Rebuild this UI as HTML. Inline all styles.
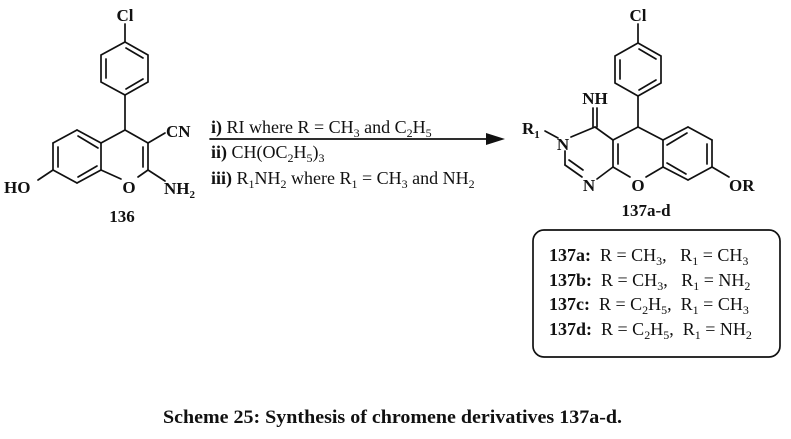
<!DOCTYPE html>
<html><head><meta charset="utf-8"><style>
html,body{margin:0;padding:0;background:#fff}
svg{display:block}
text{font-family:"Liberation Serif",serif;fill:#111;white-space:pre}
.b{font-weight:bold}
</style></head><body>
<svg width="791" height="439" viewBox="0 0 791 439" xmlns="http://www.w3.org/2000/svg">
<g stroke="#111" stroke-width="1.7" fill="none" stroke-linecap="round">
<line x1="125" y1="24" x2="125" y2="42"/>
<polygon points="125,42 148,55 148,82 125,95 101,82 101,55"/>
<line x1="106" y1="59" x2="106" y2="78"/>
<line x1="126" y1="48" x2="143" y2="58"/>
<line x1="143" y1="79" x2="126" y2="89"/>
<line x1="125" y1="95" x2="125" y2="130"/>
<line x1="125" y1="130" x2="148" y2="143"/>
<line x1="148" y1="143" x2="148" y2="170"/>
<line x1="143" y1="147" x2="143" y2="167"/>
<line x1="148" y1="170" x2="138" y2="177"/>
<line x1="121" y1="179" x2="101" y2="170"/>
<line x1="101" y1="170" x2="101" y2="143"/>
<line x1="101" y1="143" x2="125" y2="130"/>
<line x1="101" y1="143" x2="77" y2="130"/>
<line x1="98" y1="148" x2="78" y2="136"/>
<line x1="77" y1="130" x2="53" y2="143"/>
<line x1="53" y1="143" x2="53" y2="170"/>
<line x1="58" y1="147" x2="58" y2="167"/>
<line x1="53" y1="170" x2="77" y2="183"/>
<line x1="77" y1="183" x2="101" y2="170"/>
<line x1="78" y1="177" x2="97" y2="166"/>
<line x1="53" y1="170" x2="38" y2="180"/>
<line x1="148" y1="143" x2="165" y2="133"/>
<line x1="148" y1="170" x2="165" y2="181"/>
<line x1="210" y1="139" x2="490" y2="139"/>
<line x1="638" y1="24" x2="638" y2="43"/>
<polygon points="638,43 661,56 661,83 638,96 615,83 615,56"/>
<line x1="620" y1="60" x2="620" y2="79"/>
<line x1="639" y1="49" x2="656" y2="59"/>
<line x1="656" y1="80" x2="639" y2="90"/>
<line x1="638" y1="96" x2="638" y2="127"/>
<line x1="638" y1="127" x2="613" y2="140"/>
<line x1="638" y1="127" x2="663" y2="140"/>
<line x1="613" y1="140" x2="613" y2="167"/>
<line x1="618" y1="144" x2="618" y2="164"/>
<line x1="613" y1="167" x2="630" y2="177"/>
<line x1="646" y1="177" x2="663" y2="167"/>
<line x1="663" y1="140" x2="688" y2="127"/>
<line x1="667" y1="145" x2="687" y2="133"/>
<line x1="688" y1="127" x2="712" y2="140"/>
<line x1="712" y1="140" x2="712" y2="167"/>
<line x1="707" y1="144" x2="707" y2="164"/>
<line x1="712" y1="167" x2="688" y2="180"/>
<line x1="688" y1="180" x2="663" y2="167"/>
<line x1="686" y1="174" x2="667" y2="163"/>
<line x1="663" y1="167" x2="663" y2="140"/>
<line x1="712" y1="167" x2="729" y2="177"/>
<line x1="613" y1="140" x2="595" y2="127"/>
<line x1="595" y1="127" x2="571" y2="137"/>
<line x1="565" y1="151" x2="565" y2="165"/>
<line x1="565" y1="165" x2="582" y2="177"/>
<line x1="569" y1="160" x2="583" y2="170"/>
<line x1="597" y1="179" x2="613" y2="167"/>
<line x1="593" y1="108" x2="593" y2="127"/>
<line x1="597" y1="108" x2="597" y2="127"/>
<line x1="545" y1="131" x2="558" y2="138"/>
<rect x="533" y="230" width="247" height="127" rx="11" ry="11"/>
</g>
<polygon points="486,133 505,139 486,145" fill="#111"/>
<g font-size="17">
<text x="125" y="21" text-anchor="middle" class="b">Cl</text>
<text x="166" y="137" class="b">CN</text>
<text x="129" y="193" text-anchor="middle" class="b">O</text>
<text x="164" y="194" class="b">NH<tspan font-size="11" dy="4">2</tspan></text>
<text x="4" y="193" class="b">HO</text>
<text x="122" y="222" text-anchor="middle" class="b">136</text>
<text x="638" y="21" text-anchor="middle" class="b">Cl</text>
<text x="595" y="104" text-anchor="middle" class="b">NH</text>
<text x="522" y="134" class="b">R<tspan font-size="11" dy="4">1</tspan></text>
<text x="563" y="150" text-anchor="middle" class="b">N</text>
<text x="589" y="191" text-anchor="middle" class="b">N</text>
<text x="638" y="191" text-anchor="middle" class="b">O</text>
<text x="729" y="191" class="b">OR</text>
<text x="646" y="216" text-anchor="middle" class="b">137a-d</text>
</g>
<g font-size="18">
<text x="211" y="133"><tspan class="b">i)</tspan> RI where R = CH<tspan font-size="12" dy="4">3</tspan><tspan dy="-4"> and C</tspan><tspan font-size="12" dy="4">2</tspan><tspan dy="-4">H</tspan><tspan font-size="12" dy="4">5</tspan></text>
<text x="211" y="158"><tspan class="b">ii)</tspan> CH(OC<tspan font-size="12" dy="4">2</tspan><tspan dy="-4">H</tspan><tspan font-size="12" dy="4">5</tspan><tspan dy="-4">)</tspan><tspan font-size="12" dy="4">3</tspan></text>
<text x="211" y="184"><tspan class="b">iii)</tspan> R<tspan font-size="12" dy="4">1</tspan><tspan dy="-4">NH</tspan><tspan font-size="12" dy="4">2</tspan><tspan dy="-4"> where R</tspan><tspan font-size="12" dy="4">1</tspan><tspan dy="-4"> = CH</tspan><tspan font-size="12" dy="4">3</tspan><tspan dy="-4"> and NH</tspan><tspan font-size="12" dy="4">2</tspan></text>
</g>
<g font-size="18">
<text x="549" y="261"><tspan class="b">137a:</tspan>  R = CH<tspan font-size="12" dy="4">3</tspan><tspan dy="-4">,   R</tspan><tspan font-size="12" dy="4">1</tspan><tspan dy="-4"> = CH</tspan><tspan font-size="12" dy="4">3</tspan></text>
<text x="549" y="286"><tspan class="b">137b:</tspan>  R = CH<tspan font-size="12" dy="4">3</tspan><tspan dy="-4">,   R</tspan><tspan font-size="12" dy="4">1</tspan><tspan dy="-4"> = NH</tspan><tspan font-size="12" dy="4">2</tspan></text>
<text x="549" y="310"><tspan class="b">137c:</tspan>  R = C<tspan font-size="12" dy="4">2</tspan><tspan dy="-4">H</tspan><tspan font-size="12" dy="4">5</tspan><tspan dy="-4">,  R</tspan><tspan font-size="12" dy="4">1</tspan><tspan dy="-4"> = CH</tspan><tspan font-size="12" dy="4">3</tspan></text>
<text x="549" y="335"><tspan class="b">137d:</tspan>  R = C<tspan font-size="12" dy="4">2</tspan><tspan dy="-4">H</tspan><tspan font-size="12" dy="4">5</tspan><tspan dy="-4">,  R</tspan><tspan font-size="12" dy="4">1</tspan><tspan dy="-4"> = NH</tspan><tspan font-size="12" dy="4">2</tspan></text>
</g>
<text x="163" y="423" font-size="19" class="b" textLength="459" lengthAdjust="spacingAndGlyphs">Scheme 25: Synthesis of chromene derivatives 137a-d.</text>
</svg>
</body></html>
